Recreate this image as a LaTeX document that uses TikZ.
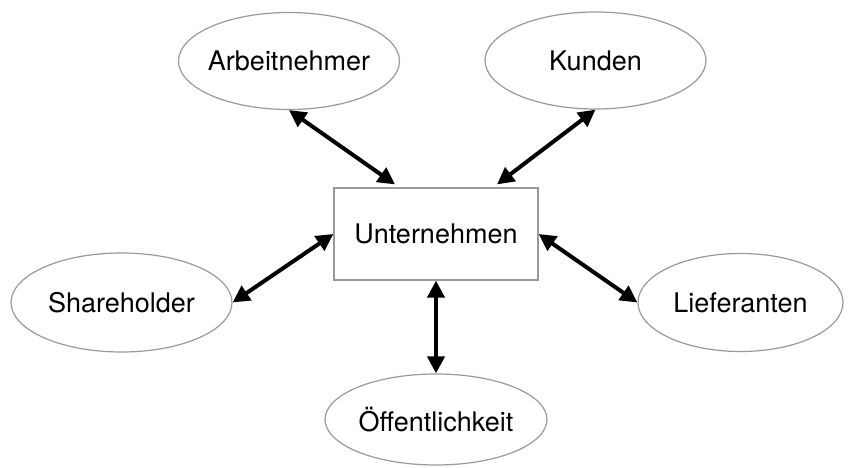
\documentclass[tikz,border=0pt]{standalone}
\usepackage{fontspec}
\setmainfont{TeX Gyre Heros}
\usetikzlibrary{shapes.geometric,arrows.meta}

\begin{document}
\begin{tikzpicture}[x=1pt,y=-1pt,
        font=\fontsize{27}{32}\selectfont,
        firmbox/.style={draw=black!40,line width=1.2pt,minimum width=204pt,minimum height=92pt},
        party/.style={ellipse,draw=black!40,line width=1.2pt,inner sep=0pt,inner xsep=-12pt,minimum width=221pt,minimum height=97pt},
        link/.style={{Triangle[length=17pt,width=17pt]}-{Triangle[length=17pt,width=17pt]},line width=4pt}]
        \useasboundingbox (0,0) rectangle (848,468);
        \node[firmbox] (firm) at (436,234) {Unternehmen};
        \node[party] (staff) at (289,61) {Arbeitnehmer};
        \node[party] (clients) at (595.5,60.5) {Kunden};
        \node[party,minimum height=99pt] (owners) at (121.5,302.5) {Shareholder};
        \node[party,minimum width=205pt,minimum height=98pt] (suppliers) at (740.5,302.5) {Lieferanten};
        \node[party,minimum width=222pt,minimum height=91pt] (public) at (436,419.5) {Öffentlichkeit};
        \draw[link] (staff.south) -- ([shift={(-41,-3)}]firm.north);
        \draw[link] (clients.south) -- ([shift={(61,-3)}]firm.north);
        \draw[link] (owners.east) -- (firm.west);
        \draw[link] (suppliers.west) -- (firm.east);
        \draw[link] (firm.south) -- (public.north);
    \end{tikzpicture}
\end{document}
